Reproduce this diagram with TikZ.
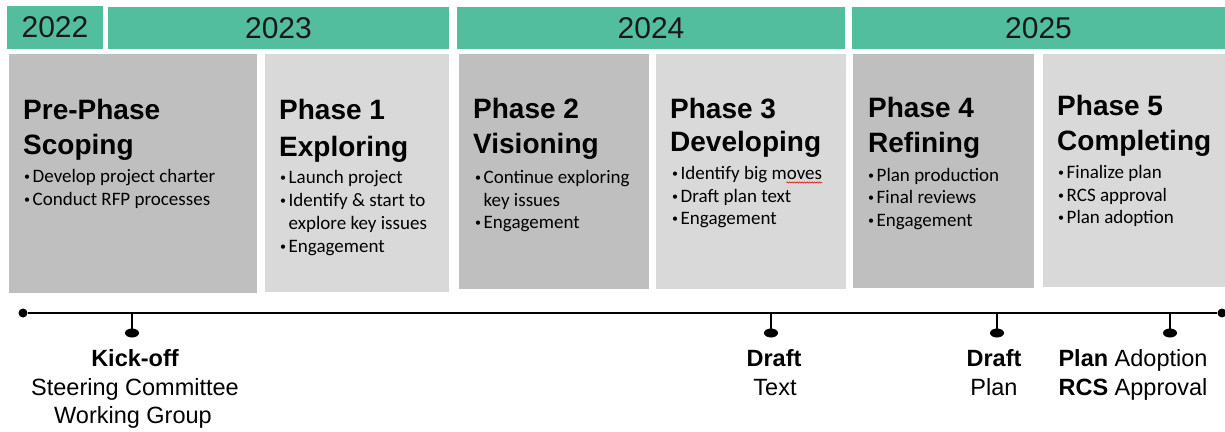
\documentclass[tikz,border=0pt]{standalone}
\usepackage{fontspec}
\setmainfont{Liberation Sans}
\newfontfamily\calfont{Carlito}
\usetikzlibrary{shapes.geometric,decorations.pathmorphing,calc}
\definecolor{yeargreen}{RGB}{82,190,158}
\definecolor{darkgrey}{RGB}{191,191,191}
\definecolor{lightgrey}{RGB}{217,217,217}
\newcommand\smallbul{\raisebox{1.5pt}{\fontsize{12}{12}\selectfont\textbullet}}
\newcommand\bitem[1]{\makebox[8.5pt][l]{\smallbul}#1}
\newcommand\bcont[1]{\hspace*{8.5pt}#1}
\begin{document}
\begin{tikzpicture}[x=1pt,y=-1pt,
 yearbox/.style={fill=yeargreen, draw=none, inner sep=0, font=\fontsize{30}{36}\selectfont, text=black!90},
 darkbox/.style={fill=darkgrey, inner sep=0},
 lightbox/.style={fill=lightgrey, inner sep=0},
 titletext/.style={anchor=base west, inner sep=0, font=\fontsize{28}{34}\selectfont\bfseries},
 bullettext/.style={anchor=base west, inner sep=0, font=\calfont\fontsize{19}{23}\selectfont},
 milebold/.style={anchor=base, inner sep=0, font=\fontsize{23.5}{28}\selectfont\bfseries},
 miletext/.style={anchor=base, inner sep=0, font=\fontsize{23.5}{28}\selectfont},
 axisline/.style={line width=1.6pt},
 tickline/.style={line width=1.6pt},
 enddot/.style={circle, fill=black, inner sep=0, minimum size=9},
 pinhead/.style={ellipse, fill=black, inner sep=0, minimum width=14, minimum height=9},
]
\useasboundingbox (0,0) rectangle (1225,431);

% year bars
\node[yearbox, minimum width=96, minimum height=43] (y2022) at (55,27.5) {2022};
\node[yearbox, minimum width=341, minimum height=42] (y2023) at (278.5,28) {2023};
\node[yearbox, minimum width=388, minimum height=42] (y2024) at (651,28) {2024};
\node[yearbox, minimum width=373, minimum height=42] (y2025) at (1038.5,28) {2025};

% phase boxes
\node[darkbox, minimum width=248, minimum height=239] (b0) at (133,173.5) {};
\node[lightbox, minimum width=184, minimum height=238] (b1) at (357,173) {};
\node[darkbox, minimum width=190, minimum height=235] (b2) at (554,171.5) {};
\node[lightbox, minimum width=190, minimum height=235] (b3) at (751,171.5) {};
\node[darkbox, minimum width=181, minimum height=234] (b4) at (943.5,171) {};
\node[lightbox, minimum width=182, minimum height=233] (b5) at (1134,170.5) {};

% Pre-Phase
\node[titletext] (t0a) at (23,119) {Pre-Phase};
\node[titletext] (t0b) at (23,154) {Scoping};
\node[bullettext] (l0a) at (24,182) {\bitem{Develop project charter}};
\node[bullettext] (l0b) at (24,205) {\bitem{Conduct RFP processes}};

% Phase 1
\node[titletext] (t1a) at (279,119) {Phase 1};
\node[titletext] (t1b) at (279,156) {Exploring};
\node[bullettext] (l1a) at (280,183) {\bitem{Launch project}};
\node[bullettext] (l1b) at (280,206) {\bitem{Identify \& start to}};
\node[bullettext] (l1c) at (280,229) {\bcont{explore key issues}};
\node[bullettext] (l1d) at (280,252) {\bitem{Engagement}};

% Phase 2
\node[titletext] (t2a) at (473,118) {Phase 2};
\node[titletext] (t2b) at (473,153) {Visioning};
\node[bullettext] (l2a) at (475,183) {\bitem{Continue exploring}};
\node[bullettext] (l2b) at (475,206) {\bcont{key issues}};
\node[bullettext] (l2c) at (475,228) {\bitem{Engagement}};

% Phase 3
\node[titletext] (t3a) at (670,118) {Phase 3};
\node[titletext] (t3b) at (670,151) {Developing};
\node[bullettext] (l3a) at (672,179) {\bitem{Identify big moves}};
\node[bullettext] (l3b) at (672,202) {\bitem{Draft plan text}};
\node[bullettext] (l3c) at (672,224) {\bitem{Engagement}};
\draw[red!85!black, line width=0.5pt, decorate, decoration={snake, amplitude=0.7pt, segment length=2.5pt}]
  ($(l3a.base east)+(-36,3.5)$) -- ($(l3a.base east)+(0,3.5)$);

% Phase 4
\node[titletext] (t4a) at (868,117) {Phase 4};
\node[titletext] (t4b) at (868,152) {Refining};
\node[bullettext] (l4a) at (868,181) {\bitem{Plan production}};
\node[bullettext] (l4b) at (868,203) {\bitem{Final reviews}};
\node[bullettext] (l4c) at (868,226) {\bitem{Engagement}};

% Phase 5
\node[titletext] (t5a) at (1057,115) {Phase 5};
\node[titletext] (t5b) at (1057,150) {Completing};
\node[bullettext] (l5a) at (1058,178) {\bitem{Finalize plan}};
\node[bullettext] (l5b) at (1058,201) {\bitem{RCS approval}};
\node[bullettext] (l5c) at (1058,223) {\bitem{Plan adoption}};

% timeline
\node[enddot] (start) at (23,313) {};
\node[enddot] (finish) at (1222,313) {};
\draw[axisline] (start) -- (finish);

\coordinate (k0) at (132,313);
\coordinate (k1) at (771,313);
\coordinate (k2) at (997,313);
\coordinate (k3) at (1170,313);
\node[pinhead] (p0) at (132,333) {};
\node[pinhead] (p1) at (771,333) {};
\node[pinhead] (p2) at (997,333) {};
\node[pinhead] (p3) at (1170,333) {};
\draw[tickline] (k0) -- (p0.center);
\draw[tickline] (k1) -- (p1.center);
\draw[tickline] (k2) -- (p2.center);
\draw[tickline] (k3) -- (p3.center);

% milestone labels
\node[milebold] (m0a) at (135,366) {Kick-off};
\node[miletext] (m0b) at (135,395) {Steering Committee};
\node[miletext] (m0c) at (133,423) {Working Group};

\node[milebold] (m1a) at (774,366) {Draft};
\node[miletext] (m1b) at (775,395) {Text};

\node[milebold] (m2a) at (994,366) {Draft};
\node[miletext] (m2b) at (994,395) {Plan};

\node[miletext] (m3a) at (1133,366) {{\bfseries Plan} Adoption};
\node[miletext] (m3b) at (1133,395) {{\bfseries RCS} Approval};
\end{tikzpicture}
\end{document}
